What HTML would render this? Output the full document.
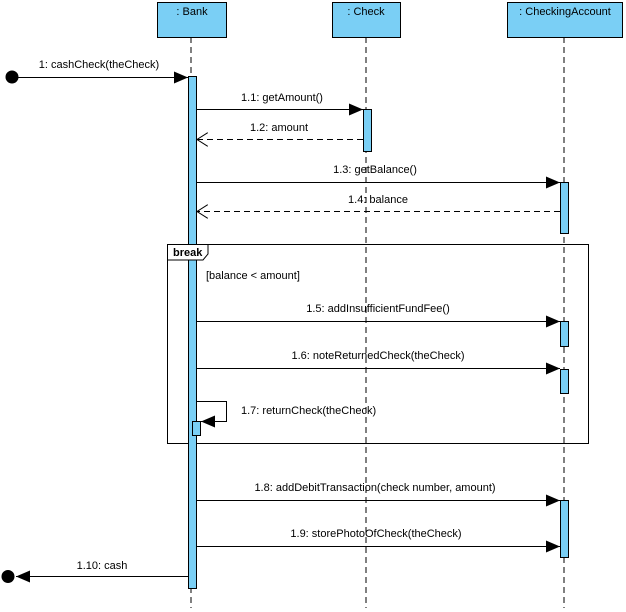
<!DOCTYPE html>
<html><head><meta charset="utf-8"><style>
body{margin:0;background:#fff}
svg{display:block;font-family:"Liberation Sans",sans-serif;font-size:11px}
</style></head><body>
<svg width="626" height="612" viewBox="0 0 626 612" xmlns="http://www.w3.org/2000/svg">
<defs>
<marker id="f" markerWidth="14" markerHeight="12" refX="14" refY="6" orient="auto" markerUnits="userSpaceOnUse"><path d="M0,0 L14,6 L0,12 Z" fill="#000"/></marker>
<marker id="o" markerWidth="12" markerHeight="14" refX="11" refY="7" orient="auto" markerUnits="userSpaceOnUse"><path d="M0,0 L11,7 L0,14" fill="none" stroke="#000"/></marker>
</defs>
<g stroke="#000" stroke-dasharray="6,4">
<line x1="191" y1="37" x2="191" y2="608"/>
<line x1="366" y1="37" x2="366" y2="608"/>
<line x1="564" y1="37" x2="564" y2="608"/>
</g>
<g fill="#7acff5" stroke="#000">
<rect x="157.5" y="2.5" width="69" height="35"/>
<rect x="332.5" y="2.5" width="68" height="35"/>
<rect x="507.5" y="2.5" width="115" height="35"/>
</g>
<g text-anchor="middle" fill="#000">
<text x="192" y="15">: Bank</text>
<text x="366" y="15">: Check</text>
<text x="565" y="15">: CheckingAccount</text>
</g>
<rect x="167.5" y="244.5" width="421" height="199" fill="none" stroke="#000"/>
<text x="206" y="279">[balance &lt; amount]</text>
<g fill="#7acff5" stroke="#000">
<rect x="188.5" y="76.5" width="8" height="512"/>
<rect x="363.5" y="109.5" width="8" height="42"/>
<rect x="560.5" y="182.5" width="8" height="51"/>
<rect x="560.5" y="321.5" width="8" height="25"/>
<rect x="560.5" y="369.5" width="8" height="24"/>
<rect x="560.5" y="500.5" width="8" height="57"/>
<rect x="192.5" y="421.5" width="8" height="14"/>
</g>
<path d="M167.5,244.5 H208 V254 L203,260 H167.5 Z" fill="#fff" stroke="#000"/>
<text x="173" y="256" font-weight="bold">break</text>
<g stroke="#000" fill="none">
<circle cx="12" cy="77" r="6" fill="#000"/>
<line x1="12" y1="77.5" x2="188" y2="77.5" marker-end="url(#f)"/>
<line x1="196" y1="109.5" x2="363" y2="109.5" marker-end="url(#f)"/>
<line x1="363" y1="139.5" x2="197" y2="139.5" stroke-dasharray="6,4" marker-end="url(#o)"/>
<line x1="196" y1="182.5" x2="560" y2="182.5" marker-end="url(#f)"/>
<line x1="560" y1="211.5" x2="197" y2="211.5" stroke-dasharray="6,4" marker-end="url(#o)"/>
<line x1="196" y1="321.5" x2="560" y2="321.5" marker-end="url(#f)"/>
<line x1="196" y1="368.5" x2="560" y2="368.5" marker-end="url(#f)"/>
<path d="M196,401.5 H226.5 V421.5 H201" marker-end="url(#f)"/>
<line x1="196" y1="500.5" x2="560" y2="500.5" marker-end="url(#f)"/>
<line x1="196" y1="546.5" x2="560" y2="546.5" marker-end="url(#f)"/>
<line x1="188" y1="576.5" x2="16" y2="576.5" marker-end="url(#f)"/>
<circle cx="8" cy="576.5" r="6" fill="#000"/>
</g>
<g fill="#000" text-anchor="middle">
<text x="99" y="68">1: cashCheck(theCheck)</text>
<text x="282" y="101">1.1: getAmount()</text>
<text x="279" y="131">1.2: amount</text>
<text x="375" y="173">1.3: getBalance()</text>
<text x="378" y="203">1.4: balance</text>
<text x="378" y="312">1.5: addInsufficientFundFee()</text>
<text x="378" y="359">1.6: noteReturnedCheck(theCheck)</text>
<text x="241" y="414" text-anchor="start">1.7: returnCheck(theCheck)</text>
<text x="375" y="491">1.8: addDebitTransaction(check number, amount)</text>
<text x="376" y="537">1.9: storePhotoOfCheck(theCheck)</text>
<text x="102" y="569">1.10: cash</text>
</g>
</svg>
</body></html>
